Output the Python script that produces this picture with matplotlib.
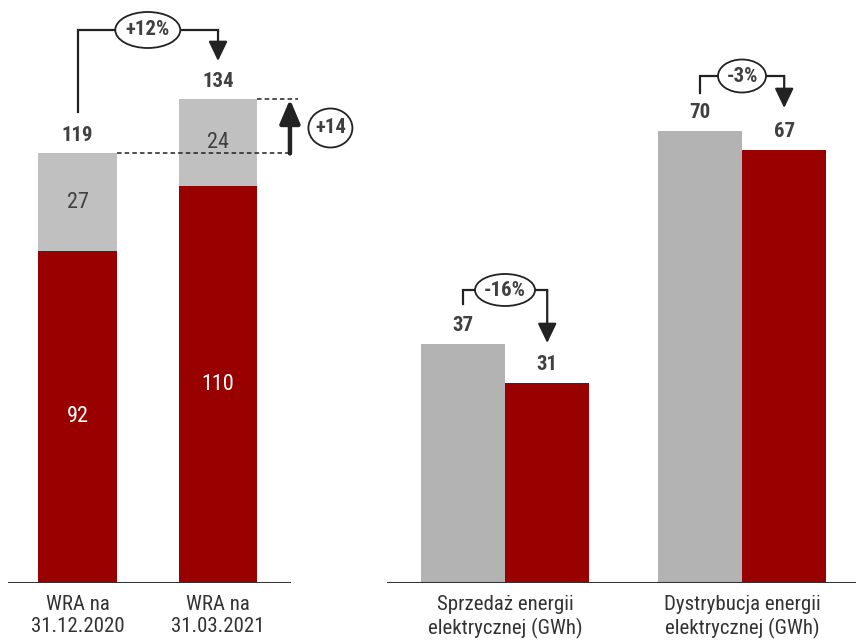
import matplotlib
matplotlib.use("Agg")
import matplotlib.pyplot as plt
from matplotlib import font_manager
from matplotlib.patches import Ellipse, FancyArrowPatch

# pick a narrow sans (Arial Narrow look-alike) if one is installed
_installed = {f.name for f in font_manager.fontManager.ttflist}
_narrow = [n for n in ["Liberation Sans Narrow", "Arial Narrow", "Roboto Condensed",
                       "PT Sans Narrow", "Archivo Narrow"] if n in _installed]
plt.rcParams["font.family"] = _narrow[:1] + ["DejaVu Sans"]

# data
wra_labels = ["WRA na\n31.12.2020", "WRA na\n31.03.2021"]
wra_red = [92, 110]
wra_gray = [27, 24]
wra_total = [119, 134]
wra_change = ["+12%", "+14"]

energy_labels = ["Sprzedaż energii\nelektrycznej (GWh)", "Dystrybucja energii\nelektrycznej (GWh)"]
energy_prev = [37, 70]
energy_curr = [31, 67]
energy_change = ["-16%", "-3%"]

RED = "#990000"
GRAY_L = "#C0C0C0"
GRAY_R = "#B3B3B3"
TXT = "#404040"
LINE = "#222222"

W, H = 856, 643
fig = plt.figure(figsize=(W / 100, H / 100), dpi=100)


def fx(px):
    return px / W


def fy(px):
    return 1 - px / H


def bracket(ax, x1, x2, y0, yh, tip, label, ew, eh):
    ax.plot([x1, x1, x2], [y0, yh, yh], color=LINE, lw=1.6, solid_joinstyle="miter", zorder=3)
    arr = FancyArrowPatch((x2, yh), (x2, tip), arrowstyle="-|>,head_length=0.75,head_width=0.36",
                          mutation_scale=16, color=LINE, lw=1.6, shrinkA=0, shrinkB=0, zorder=3)
    ax.add_patch(arr)
    xc = (x1 + x2) / 2
    ax.add_patch(Ellipse((xc, yh), ew, eh, facecolor="white", edgecolor=LINE, lw=1.3, zorder=4))
    ax.text(xc, yh, label, ha="center", va="center", fontsize=15, fontweight="bold",
            color=TXT, zorder=5)


# ---- left panel ----
ax1 = fig.add_axes([fx(8), fy(583), fx(380 - 8), 583 / H])
sc1 = 583 / 161.5
x1 = [0, 1]
ax1.bar(x1, wra_red, width=0.56, color=RED, zorder=2)
ax1.bar(x1, wra_gray, width=0.56, bottom=wra_red, color=GRAY_L, zorder=2)
ax1.set_xlim(-0.495, 2.153)
ax1.set_ylim(0, 161.5)
for i in range(2):
    ax1.text(x1[i], wra_red[i] / 2, str(wra_red[i]), ha="center", va="center",
             fontsize=16, color="white", zorder=5)
    ax1.text(x1[i], wra_red[i] + wra_gray[i] / 2, str(wra_gray[i]), ha="center", va="center",
             fontsize=16, color=TXT, zorder=5)
    ax1.text(x1[i], wra_total[i] + 18 / sc1, str(wra_total[i]), ha="center", va="center",
             fontsize=15, fontweight="bold", color=TXT)
ax1.axhline(0, xmin=0, xmax=(290 - 8) / 372, color="#333333", lw=1.5, zorder=3)

# dashed reference lines
ax1.plot([0.28, 1.53], [wra_total[0], wra_total[0]], ls=(0, (3, 2)), color=LINE, lw=1.1, zorder=3)
ax1.plot([1.28, 1.57], [wra_total[1], wra_total[1]], ls=(0, (3, 2)), color=LINE, lw=1.1, zorder=3)
# +14 arrow
ax1.add_patch(FancyArrowPatch((1.512, wra_total[0]), (1.512, wra_total[1]),
                              arrowstyle="-|>,head_length=0.8,head_width=0.34", mutation_scale=18,
                              color=LINE, lw=3.2, shrinkA=0, shrinkB=0, zorder=4))
ax1.add_patch(Ellipse((1.8, (583 - 128) / sc1), 44 / 140.5, 39 / sc1,
                      facecolor="white", edgecolor=LINE, lw=1.3, zorder=4))
ax1.text(1.8, (583 - 128) / sc1, wra_change[1], ha="center", va="center",
         fontsize=15, fontweight="bold", color=TXT, zorder=5)
# +12% bracket
bracket(ax1, 0, 1, (583 - 112) / sc1, (583 - 30) / sc1, (583 - 61) / sc1, wra_change[0],
        65 / 140.5, 36 / sc1)

ax1.set_xticks(x1)
ax1.set_xticklabels(wra_labels, fontsize=15, color="#333333", linespacing=1.2)
ax1.tick_params(axis="x", length=0, pad=9)
ax1.set_yticks([])
for s in ax1.spines.values():
    s.set_visible(False)
ax1.patch.set_alpha(0)

# ---- right panel ----
ax2 = fig.add_axes([fx(387), fy(583), fx(856 - 387), 583 / H])
sc2 = 583 / 90.2
x2 = [0, 1]
off = 0.178
bw = 0.355
ax2.bar([x - off for x in x2], energy_prev, width=bw, color=GRAY_R, zorder=2)
ax2.bar([x + off for x in x2], energy_curr, width=bw, color=RED, zorder=2)
ax2.set_xlim(-0.498, 1.481)
ax2.set_ylim(0, 90.2)
for i in range(2):
    ax2.text(x2[i] - off, energy_prev[i] + 18 / sc2, str(energy_prev[i]), ha="center", va="center",
             fontsize=15, fontweight="bold", color=TXT)
    ax2.text(x2[i] + off, energy_curr[i] + 18 / sc2, str(energy_curr[i]), ha="center", va="center",
             fontsize=15, fontweight="bold", color=TXT)
ax2.axhline(0, color="#333333", lw=1.5, zorder=3)

bracket(ax2, x2[0] - off, x2[0] + off, (583 - 304) / sc2, (583 - 290) / sc2, (583 - 343) / sc2,
        energy_change[0], 60 / 237, 32 / sc2)
bracket(ax2, x2[1] - off, x2[1] + off, (583 - 93) / sc2, (583 - 76) / sc2, (583 - 108) / sc2,
        energy_change[1], 48 / 237, 33 / sc2)

ax2.set_xticks(x2)
ax2.set_xticklabels(energy_labels, fontsize=15, color="#333333", linespacing=1.2)
ax2.tick_params(axis="x", length=0, pad=9)
ax2.set_yticks([])
for s in ax2.spines.values():
    s.set_visible(False)
ax2.patch.set_alpha(0)

fig.savefig("out.png", dpi=100)
